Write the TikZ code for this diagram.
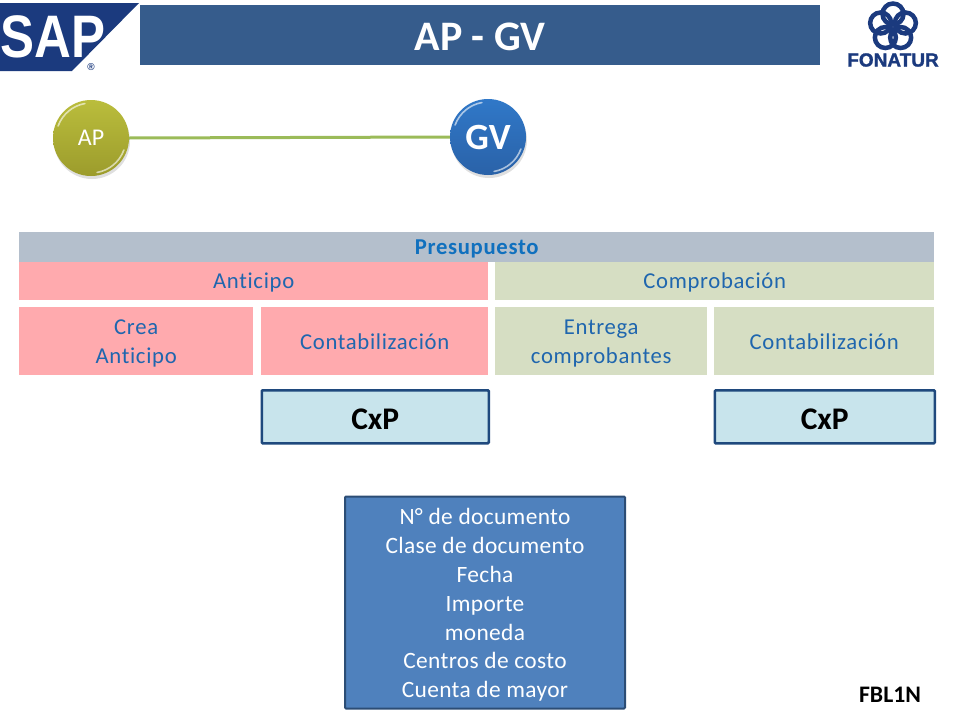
\documentclass[tikz,border=0pt]{standalone}
\usepackage{fontspec}
\setmainfont{Carlito}[Ligatures=NoCommon]
\newfontfamily\logofont{Liberation Sans}
\usetikzlibrary{shadows}
\definecolor{navy}{HTML}{1B3A7E}
\definecolor{titlebar}{HTML}{365C8C}
\definecolor{grayband}{HTML}{B4BFCC}
\definecolor{pinkbox}{HTML}{FFAAAE}
\definecolor{sagebox}{HTML}{D6DEC3}
\definecolor{labelblue}{HTML}{1F66AE}
\definecolor{presblue}{HTML}{1070BE}
\definecolor{cxpfill}{HTML}{C8E4EC}
\definecolor{edgeblue}{HTML}{1F497D}
\definecolor{docfill}{HTML}{4F81BD}
\definecolor{docedge}{HTML}{2C4D75}
\definecolor{linegreen}{HTML}{9BBB59}
\definecolor{oliveA}{HTML}{BABD3C}
\definecolor{oliveB}{HTML}{9C9C2C}
\definecolor{blueA}{HTML}{3078C8}
\definecolor{blueB}{HTML}{2A62A8}
\newcommand\lowr[2]{\raisebox{-#1}[\height][\depth]{\begin{tabular}{@{}c@{}}#2\end{tabular}}}
\tikzset{
  band/.style={anchor=north west,inner sep=0pt,align=center,text=labelblue,
    font=\fontsize{22.7}{29}\selectfont\addfontfeatures{LetterSpace=3}},
  cxpbox/.style={anchor=north west,inner sep=0pt,draw=edgeblue,line width=2.5pt,fill=cxpfill,
    rounded corners=1pt,font=\fontsize{31.5}{34}\selectfont\bfseries,text=black,
    minimum height=53pt},
  ball/.style={circle,inner sep=0pt,minimum size=76pt,text=white,
    drop shadow={shadow xshift=1pt,shadow yshift=-3pt,opacity=.25}},
  glint/.style={white,line width=1.6pt,opacity=.6,line cap=round},
}
\begin{document}
\begin{tikzpicture}[x=1pt,y=-1pt]
\useasboundingbox (0,0) rectangle (960,720);
% SAP logo
\fill[navy] (0,3) -- (139,3) -- (72,71) -- (0,71) -- cycle;
\node[text=white,inner sep=0pt,xscale=.85,font=\logofont\fontsize{60}{60}\selectfont\bfseries] (saplogo) at (53,37) {SAP};
\node[text=navy,inner sep=0pt,font=\logofont\fontsize{10}{10}\selectfont\bfseries] (sapreg) at (91,67) {®};
% title
\node[anchor=north west,inner sep=0pt,fill=titlebar,minimum width=680pt,minimum height=60pt,
  text=white,font=\fontsize{42}{44}\selectfont\bfseries] (title) at (140,5) {\lowr{6pt}{AP - GV}};
% FONATUR logo
\begin{scope}[navy,line width=4.5pt]
  \foreach \a in {90,162,234,306,378}
    \draw ({893+13*cos(\a)},{27-13*sin(\a)}) circle (10.5pt);
\end{scope}
\node[text=navy,inner sep=0pt,font=\logofont\fontsize{19}{19}\selectfont\bfseries\addfontfeatures{FakeBold=1.5}] (fonatur) at (893,60) {FONATUR};
% circles
\node[ball,top color=oliveA,bottom color=oliveB,font=\fontsize{24}{26}\selectfont] (ap) at (91,138) {AP};
\node[ball,top color=blueA,bottom color=blueB,font=\fontsize{37}{40}\selectfont\bfseries] (gv) at (488,137) {GV};
\draw[linegreen,line width=3pt] (ap.east) -- (gv.west);
\foreach \c in {ap,gv}{
  \draw[glint] ([shift={(160:35pt)}]\c.center) arc[start angle=160,end angle=100,radius=35pt];
  \draw[glint] ([shift={(-20:35pt)}]\c.center) arc[start angle=-20,end angle=-80,radius=35pt];
}
% bands
\node[band,fill=grayband,minimum width=915pt,minimum height=30pt,text=presblue,font=\fontsize{22.7}{29}\selectfont\bfseries\addfontfeatures{LetterSpace=3}] (pres) at (19,232) {\lowr{1pt}{Presupuesto}};
\node[band,fill=pinkbox,minimum width=469pt,minimum height=38pt] (anti) at (19,262) {\lowr{1pt}{Anticipo}};
\node[band,fill=sagebox,minimum width=439pt,minimum height=38pt] (comp) at (495,262) {\lowr{1pt}{Comprobación}};
\node[band,fill=pinkbox,minimum width=234pt,minimum height=68pt] (crea) at (19,307) {\lowr{2pt}{Crea\\Anticipo}};
\node[band,fill=pinkbox,minimum width=227pt,minimum height=68pt] (cont1) at (261,307) {Contabilización};
\node[band,fill=sagebox,minimum width=212pt,minimum height=68pt] (entr) at (495,307) {\lowr{2pt}{Entrega\\comprobantes}};
\node[band,fill=sagebox,minimum width=220pt,minimum height=68pt] (cont2) at (714,307) {Contabilización};
% CxP
\node[cxpbox,minimum width=227pt] (cxp1) at (260.5,389) {\lowr{6pt}{CxP}};
\node[cxpbox,minimum width=220pt] (cxp2) at (713.5,389) {\lowr{6pt}{CxP}};
% document box
\node[anchor=north west,inner sep=0pt,draw=docedge,line width=2pt,fill=docfill,rounded corners=1pt,
  minimum width=280pt,minimum height=212pt,align=center,text=white,
  font=\fontsize{23.4}{28.8}\selectfont\addfontfeatures{LetterSpace=1.5}] (doc) at (344,495.5)
  {\lowr{3pt}{N° de documento\\Clase de documento\\Fecha\\Importe\\moneda\\Centros de costo\\Cuenta de mayor}};
\node[inner sep=0pt,text=black,font=\fontsize{23.7}{26}\selectfont\bfseries] (fbl) at (890,695) {FBL1N};
\end{tikzpicture}
\end{document}
